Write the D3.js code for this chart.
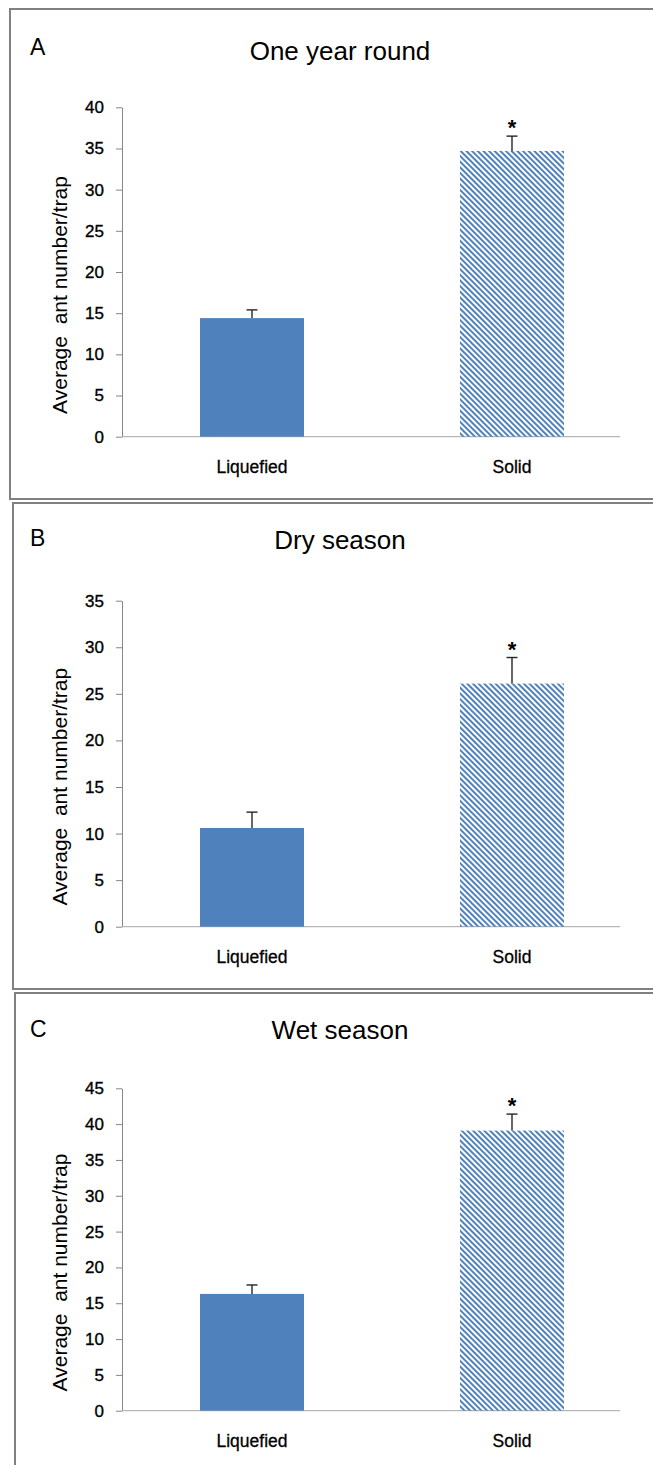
<!DOCTYPE html>
<html>
<head>
<meta charset="utf-8">
<script src="https://cdn.jsdelivr.net/npm/d3@7"></script>
<style>
  body { margin: 0; background: #fff; }
  svg text { font-family: "Liberation Sans", Arial, sans-serif; fill: #000; }
</style>
</head>
<body>
<div id="chart"></div>
<script>
// values
var categories = ["Liquefied", "Solid"];
var panelLetters = ["A", "B", "C"];
var panelTitles = ["One year round", "Dry season", "Wet season"];
var yLabel = "Average  ant number/trap";

var meanOneYear = [14.4, 34.7];
var errOneYear  = [1.0, 1.8];
var meanDry     = [10.6, 26.1];
var errDry      = [1.7, 2.8];
var meanWet     = [16.3, 39.1];
var errWet      = [1.25, 2.3];
var significant = [false, true];

var yTicksOneYear = [0, 5, 10, 15, 20, 25, 30, 35, 40];
var yTicksDry     = [0, 5, 10, 15, 20, 25, 30, 35];
var yTicksWet     = [0, 5, 10, 15, 20, 25, 30, 35, 40, 45];

var blue = "#4f81bd";

var svg = d3.select("#chart").append("svg")
    .attr("width", 653)
    .attr("height", 1465);

// diagonal hatch for the solid bait bars
svg.append("defs").append("pattern")
    .attr("id", "hatch")
    .attr("patternUnits", "userSpaceOnUse")
    .attr("width", 4)
    .attr("height", 4)
    .attr("patternTransform", "rotate(45)")
  .append("rect")
    .attr("x", 0).attr("y", 0)
    .attr("width", 4).attr("height", 2)
    .attr("fill", blue);

// layout of each panel (box + plot area)
var panels = [
  { letter: panelLetters[0], title: panelTitles[0], mean: meanOneYear, err: errOneYear, ticks: yTicksOneYear,
    boxX: 10, boxY: 9, boxH: 490, zeroY: 436.7, topY: 107.3, letterY: 55, titleY: 60 },
  { letter: panelLetters[1], title: panelTitles[1], mean: meanDry, err: errDry, ticks: yTicksDry,
    boxX: 13, boxY: 503, boxH: 486, zeroY: 926.7, topY: 600.7, letterY: 546, titleY: 549 },
  { letter: panelLetters[2], title: panelTitles[2], mean: meanWet, err: errWet, ticks: yTicksWet,
    boxX: 15, boxY: 993, boxH: 490, zeroY: 1410.7, topY: 1088.3, letterY: 1037, titleY: 1039 }
];

var plotLeft = 122, plotRight = 642, axisEnd = 620;

var xScale = d3.scaleBand()
    .domain(categories)
    .range([plotLeft, plotRight])
    .paddingInner(0.6)
    .paddingOuter(0.3);

panels.forEach(function(p) {
  var g = svg.append("g");

  // panel frame
  g.append("rect")
      .attr("x", p.boxX)
      .attr("y", p.boxY)
      .attr("width", 700)
      .attr("height", p.boxH)
      .attr("fill", "none")
      .attr("stroke", "#808080")
      .attr("stroke-width", 2);

  g.append("text")
      .attr("x", 30)
      .attr("y", p.letterY)
      .style("font-size", "23px")
      .text(p.letter);

  g.append("text")
      .attr("x", 340)
      .attr("y", p.titleY)
      .attr("text-anchor", "middle")
      .style("font-size", "26px")
      .text(p.title);

  var yMax = p.ticks[p.ticks.length - 1];
  var yScale = d3.scaleLinear()
      .domain([0, yMax])
      .range([p.zeroY, p.topY]);

  // y axis
  var yAxis = d3.axisLeft(yScale)
      .tickValues(p.ticks)
      .tickSize(6)
      .tickPadding(12)
      .tickSizeOuter(0);

  var ya = g.append("g")
      .attr("transform", "translate(" + plotLeft + ",0)")
      .call(yAxis);
  ya.select(".domain").attr("stroke", "#868686");
  ya.selectAll(".tick line").attr("stroke", "#868686");
  ya.selectAll(".tick text")
      .attr("fill", "#000")
      .attr("stroke", "#000")
      .attr("stroke-width", 0.35)
      .style("font-size", "17px")
      .style("font-family", "'Liberation Sans', Arial, sans-serif");

  // x axis (line + category labels only)
  var xAxis = d3.axisBottom(xScale)
      .tickSize(0)
      .tickPadding(24)
      .tickSizeOuter(0);

  var xa = g.append("g")
      .attr("transform", "translate(0," + p.zeroY + ")")
      .call(xAxis);
  xa.select(".domain")
      .attr("d", "M" + plotLeft + ",0H" + axisEnd)
      .attr("stroke", "#a6a6a6");
  xa.selectAll(".tick text")
      .attr("fill", "#000")
      .attr("stroke", "#000")
      .attr("stroke-width", 0.3)
      .style("font-size", "17.5px")
      .style("font-family", "'Liberation Sans', Arial, sans-serif");

  // y axis title
  g.append("text")
      .attr("transform", "translate(67," + ((p.zeroY + p.topY) / 2 + 23) + ") rotate(-90)")
      .attr("text-anchor", "middle")
      .style("font-size", "21px")
      .style("white-space", "pre")
      .text(yLabel);

  // bars
  g.selectAll(".bar")
      .data(p.mean)
      .enter().append("rect")
      .attr("class", "bar")
      .attr("x", function(d, i) { return xScale(categories[i]); })
      .attr("width", xScale.bandwidth())
      .attr("y", function(d) { return yScale(d); })
      .attr("height", function(d) { return p.zeroY - yScale(d); })
      .attr("fill", function(d, i) { return i === 0 ? blue : "url(#hatch)"; });

  // error bars (upper only)
  var cx = function(i) { return xScale(categories[i]) + xScale.bandwidth() / 2; };
  p.mean.forEach(function(m, i) {
    var top = yScale(m + p.err[i]);
    g.append("line")
        .attr("x1", cx(i)).attr("x2", cx(i))
        .attr("y1", yScale(m)).attr("y2", top)
        .attr("stroke", "#262626")
        .attr("stroke-width", 1.4);
    g.append("line")
        .attr("x1", cx(i) - 5.5).attr("x2", cx(i) + 5.5)
        .attr("y1", top).attr("y2", top)
        .attr("stroke", "#262626")
        .attr("stroke-width", 1.4);
    if (significant[i]) {
      g.append("text")
          .attr("x", cx(i))
          .attr("y", top - 1)
          .attr("text-anchor", "middle")
          .style("font-size", "22px")
          .style("font-weight", "bold")
          .text("*");
    }
  });
});
</script>
</body>
</html>
